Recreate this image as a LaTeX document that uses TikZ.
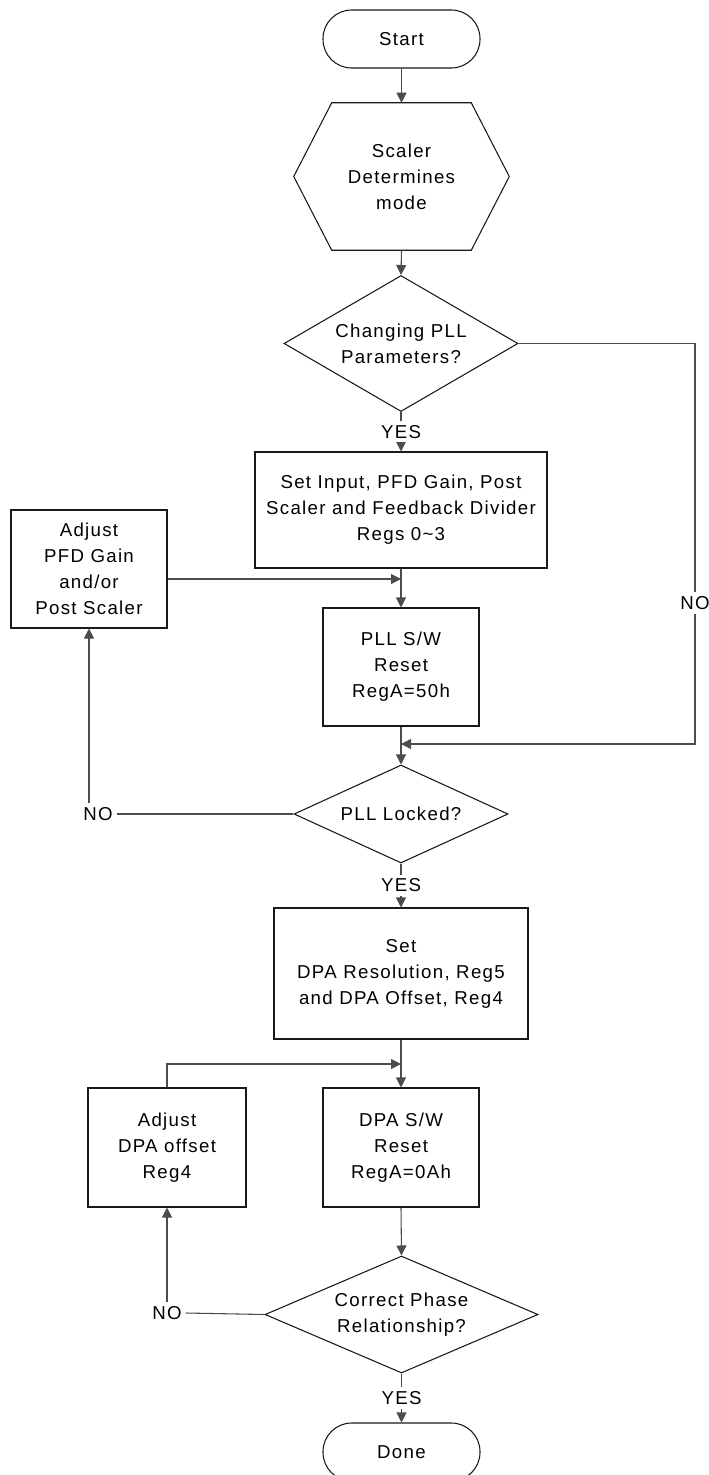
\documentclass[tikz,border=0pt]{standalone}
\usepackage{fontspec}
\setmainfont{Liberation Sans}[LetterSpace=7]
\usetikzlibrary{shapes.geometric,arrows.meta}
\newcommand\flowfont{\fontsize{14}{19.5}\selectfont}
\begin{document}
\begin{tikzpicture}[x=0.75pt,y=-0.75pt,
  outl/.style={draw=black!90, line width=0.8pt},
  blk/.style={outl, align=center, inner sep=0pt, font=\flowfont},
  term/.style={blk, rounded corners=21.5pt, minimum width={157*0.75pt}, minimum height={58*0.75pt}},
  box/.style 2 args={blk, minimum width={#1*0.75pt}, minimum height={#2*0.75pt}},
  dec/.style n args={3}{blk, diamond, aspect=#3, minimum width={#1*0.75pt}, minimum height={#2*0.75pt}},
  conn/.style={draw=black!70, line width=0.8pt},
  arr/.style={conn, -{Triangle[length=7.5pt,width=7.5pt]}},
  lbl/.style={font=\flowfont, fill=white, inner sep=3pt, text=black}
]
\useasboundingbox (0,0) rectangle (709,1475);
\fill[white] (0,0) rectangle (709,1475);

% nodes
\node[term] (start) at (401.5,39) {Start};
\node[align=center, inner sep=0pt, font=\flowfont, minimum width={215*0.75pt}, minimum height={147*0.75pt}] (hex) at (401.5,176.5) {Scaler\\Determines\\mode};
\draw[outl] (hex.west) -- ([xshift={38*0.75pt}]hex.north west) -- ([xshift={-38*0.75pt}]hex.north east) -- (hex.east) -- ([xshift={-38*0.75pt}]hex.south east) -- ([xshift={38*0.75pt}]hex.south west) -- cycle;
\node[dec={234}{136}{1.72}] (d1) at (401,343.5) {Changing PLL\\Parameters?};
\node[box={292}{116}] (setin) at (401,510) {Set Input, PFD Gain, Post\\Scaler and Feedback Divider\\Regs 0\textasciitilde3};
\node[box={156}{118}] (adj1) at (89,569) {Adjust\\PFD Gain\\and/or\\Post Scaler};
\node[box={156}{118}] (pll) at (401,667) {PLL S/W\\Reset\\RegA=50h};
\node[dec={214}{98}{2.18}] (d2) at (401,814) {PLL Locked?};
\node[box={254}{131}] (dpaset) at (401,973.5) {Set\\DPA Resolution, Reg5\\and DPA Offset, Reg4};
\node[box={158}{119}] (adj2) at (167,1147.5) {Adjust\\DPA offset\\Reg4};
\node[box={156}{119}] (dpa) at (401,1147.5) {DPA S/W\\Reset\\RegA=0Ah};
\node[dec={273}{117}{2.33}] (d3) at (401.5,1314.5) {Correct Phase\\Relationship?};
\node[term] (done) at (401.5,1452) {Done};

% junction coordinates
\coordinate (j1) at (401,579);
\coordinate (r1) at (695,744);
\coordinate (j2) at (401,744);
\coordinate (j3) at (401,1064);

% connectors
\draw[arr] (start.south) -- (hex.south |- start.south) -- (hex.north);
\draw[arr] (hex.south) -- (d1.north);
\draw[arr] (d1.south) -- node[lbl] (yes1) {YES} (setin.north);
\draw[arr] (setin.south) -- (pll.north);
\draw[arr] (adj1.east |- j1) -- (j1);
\draw[arr] (pll.south) -- (d2.north);
\draw[arr] (d1.east) -| (r1) -- (j2);
\node[lbl] (no1) at (695,603) {NO};
\node[lbl] (no2) at (98,814) {NO};
\draw[conn] (d2.west) -- (no2.east);
\draw[arr] (adj1.south |- no2.north) -- (adj1.south);
\draw[arr] (d2.south) -- node[lbl] (yes2) {YES} (dpaset.north);
\draw[arr] (dpaset.south) -- (dpa.north);
\draw[arr] (adj2.north) |- (j3);
\draw[arr] (dpa.south) -- (d3.north);
\node[lbl] (no3) at (167,1313) {NO};
\draw[conn] (d3.west) -- (no3.east);
\draw[arr] (no3.north) -- (adj2.south);
\draw[arr] (d3.south) -- node[lbl] (yes3) {YES} (done.north);
\end{tikzpicture}
\end{document}
